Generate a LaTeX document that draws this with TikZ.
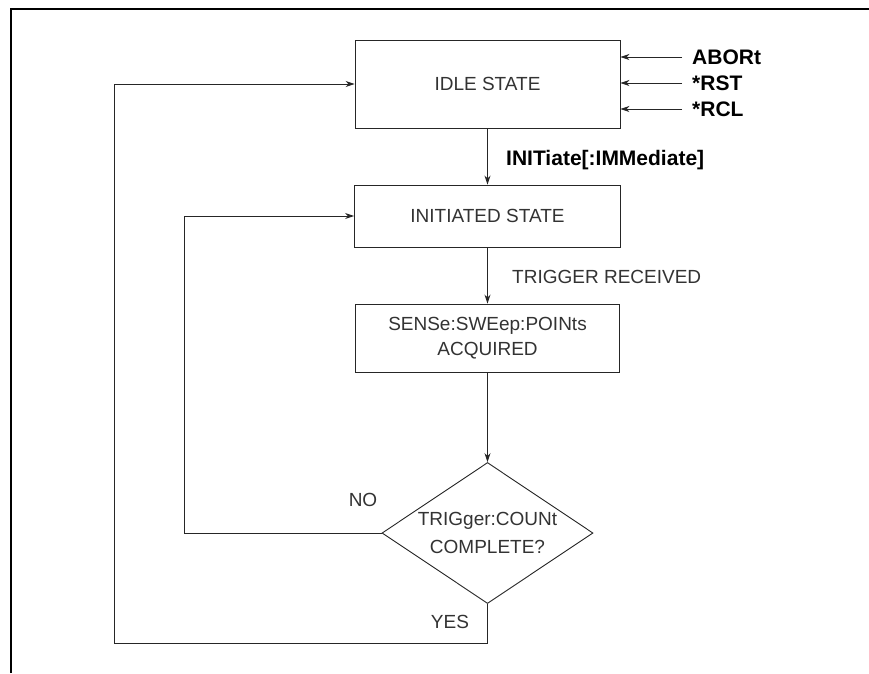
\documentclass[tikz,border=0pt]{standalone}
\usepackage{fontspec}
\setmainfont{Liberation Sans}
\usetikzlibrary{arrows.meta,shapes.geometric}
\begin{document}
\begin{tikzpicture}[x=1pt,y=-1pt,
  line/.style={line width=0.9pt,draw=black!85},
  arr/.style={line,-{Stealth[length=9pt,width=6pt]}},
  stbox/.style={line,draw,rectangle,inner sep=0pt,font=\fontsize{19}{25}\selectfont,text=black!80,align=center},
  thin/.style={font=\fontsize{19}{25}\selectfont,text=black!80,inner sep=0pt},
  cmd/.style={font=\fontsize{21}{25}\selectfont\bfseries,inner sep=0pt}]
\useasboundingbox (0,0) rectangle (869,673);
\fill[white] (0,0) rectangle (869,673);
% frame
\draw[line width=2.5pt] (11,673) -- (11,9) -- (869,9);
% boxes
\node[stbox,minimum width=265pt,minimum height=88pt] (idle) at (487.5,84) {IDLE STATE};
\node[stbox,minimum width=266pt,minimum height=62pt] (init) at (487.5,216) {INITIATED STATE};
\node[stbox,minimum width=264pt,minimum height=68pt] (sense) at (487.5,338) {SENSe:SWEep:POINts\\ACQUIRED};
\node[line,draw,diamond,minimum width=211pt,minimum height=141pt,inner sep=0pt] (dec) at (487.5,533) {};
\node[thin,align=center,font=\fontsize{19}{28}\selectfont] (dectext) at (dec.center) {TRIGger:COUNt\\COMPLETE?};
% command inputs
\node[cmd,anchor=west] (abort) at (692,57) {ABORt};
\node[cmd,anchor=west] (rst) at (692,83) {*RST};
\node[cmd,anchor=west] (rcl) at (692,109) {*RCL};
\coordinate (abs) at (682,57);
\coordinate (rss) at (682,83);
\coordinate (rcs) at (682,109);
\draw[arr] (abs) -- (abs -| idle.east);
\draw[arr] (rss) -- (rss -| idle.east);
\draw[arr] (rcs) -- (rcs -| idle.east);
% main flow
\draw[arr] (idle.south) -- (init.north);
\draw[arr] (init.south) -- (sense.north);
\draw[arr] (sense.south) -- (dec.north);
\node[cmd,anchor=west] (initlbl) at (506,160) {INITiate[:IMMediate]};
\node[thin,anchor=west] (trig) at (512,277) {TRIGGER RECEIVED};
% NO loop
\coordinate (nob) at (184,533);
\draw[arr] (dec.west) -- (nob) -- (nob |- init.west) -- (init.west);
\node[thin] (nolbl) at (363,500) {NO};
% YES loop
\coordinate (ybr) at (487.5,643);
\coordinate (ybl) at (114,643);
\draw[arr] (dec.south) -- (ybr) -- (ybl) -- (ybl |- idle.west) -- (idle.west);
\node[thin] (yeslbl) at (450,622) {YES};
\end{tikzpicture}
\end{document}
